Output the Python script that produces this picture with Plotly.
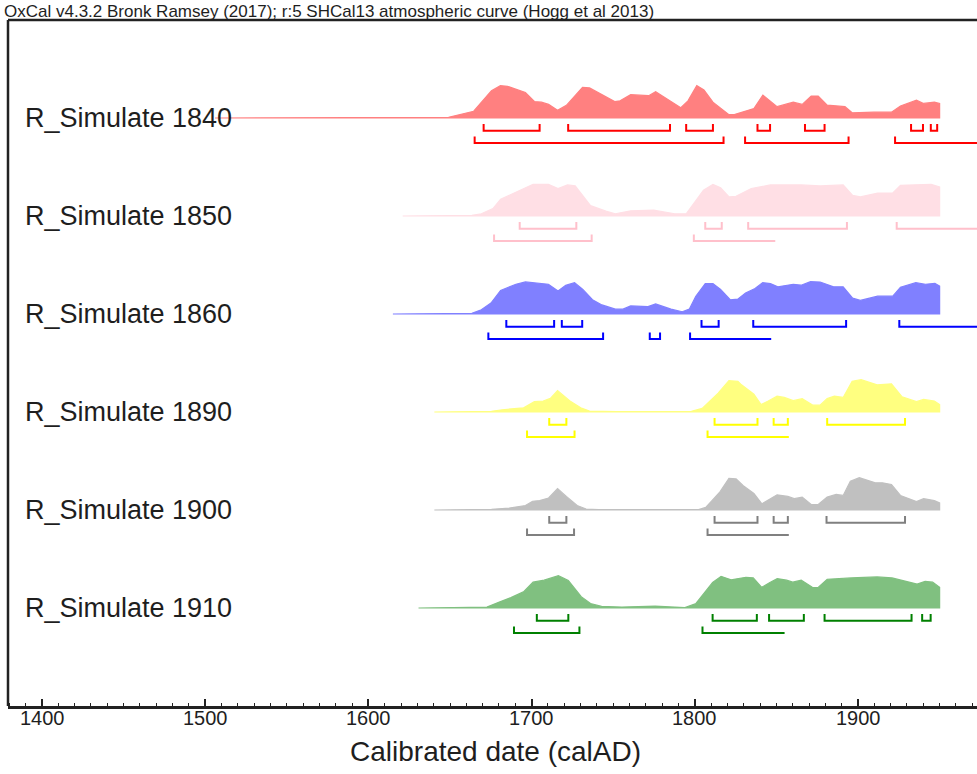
import plotly.graph_objects as go

# ---------------- data ----------------
row_labels = ["R_Simulate 1840", "R_Simulate 1850", "R_Simulate 1860",
              "R_Simulate 1890", "R_Simulate 1900", "R_Simulate 1910"]

years_1840 = [1506, 1631.6, 1649.1, 1664.5, 1675.4, 1680.9, 1685.2, 1696.2, 1701.7, 1706.0, 1710.4,
              1715.9, 1721.3, 1731.2, 1735.5, 1750.9, 1754.2, 1760.7, 1771.7, 1776.0, 1789.2,
              1791.4, 1795.8, 1801.2, 1805.6, 1811.1, 1820.9, 1824.2, 1836.2, 1841.7, 1850.4,
              1860.3, 1865.8, 1871.3, 1875.6, 1881.1, 1892.0, 1896.4, 1909.6, 1920.5, 1926.0,
              1935.8, 1940.2, 1946.8, 1950]
dens_1840 = [0, 0, 0.02, 0.21, 0.84, 1.0, 0.98, 0.79, 0.51, 0.49, 0.42,
             0.24, 0.39, 0.95, 0.93, 0.51, 0.53, 0.72, 0.69, 0.81, 0.39,
             0.32, 0.53, 1.0, 0.87, 0.49, 0.105, 0.105, 0.29, 0.71, 0.35,
             0.49, 0.42, 0.68, 0.68, 0.40, 0.35, 0.16, 0.18, 0.18, 0.37,
             0.55, 0.45, 0.49, 0.45]

years_1850 = [1621, 1663.4, 1669.2, 1676.3, 1681.0, 1690.4, 1700.9, 1710.3, 1716.2, 1722.0, 1726.7,
              1736.1, 1745.5, 1751.3, 1760.7, 1774.8, 1787.7, 1794.7, 1805.3, 1811.1, 1815.8,
              1821.0, 1825.2, 1834.6, 1846.3, 1865.1, 1876.8, 1890.9, 1896.7, 1901.4, 1912.0,
              1921.3, 1926.0, 1944.8, 1950]
dens_1850 = [0, 0.02, 0.07, 0.23, 0.52, 0.74, 0.98, 0.98, 0.85, 0.96, 0.93,
             0.32, 0.15, 0.07, 0.16, 0.18, 0.07, 0.07, 0.80, 0.98, 0.87,
             0.59, 0.61, 0.85, 0.96, 0.96, 0.93, 0.96, 0.64, 0.59, 0.71,
             0.71, 0.95, 0.98, 0.90]

years_1860 = [1615, 1663.4, 1669.2, 1675.1, 1681.0, 1690.4, 1696.2, 1710.3, 1716.2, 1720.9, 1726.3,
              1731.4, 1737.3, 1743.1, 1751.3, 1756.0, 1760.7, 1771.3, 1776.0, 1785.4, 1792.3,
              1796.6, 1800.6, 1806.4, 1811.1, 1815.8, 1821.7, 1826.3, 1831.1, 1836.9, 1841.6,
              1846.3, 1850.9, 1860.3, 1865.1, 1870.9, 1876.8, 1885.0, 1890.9, 1896.7, 1901.4,
              1912.0, 1921.3, 1926.0, 1935.4, 1941.3, 1947.1, 1950]
dens_1860 = [0, 0.02, 0.13, 0.34, 0.73, 0.92, 0.99, 0.92, 0.71, 0.89, 0.97,
             0.76, 0.44, 0.28, 0.15, 0.15, 0.25, 0.23, 0.31, 0.15, 0.07,
             0.15, 0.55, 0.94, 0.94, 0.76, 0.44, 0.46, 0.65, 0.79, 0.97,
             0.94, 0.84, 0.92, 0.89, 1.0, 0.99, 0.84, 0.84, 0.49, 0.42,
             0.55, 0.55, 0.83, 0.97, 0.92, 0.95, 0.86]

years_1890 = [1640.4, 1675.4, 1682.0, 1695.1, 1701.7, 1707.1, 1711.5, 1715.9, 1723.5, 1730.1, 1735.5,
              1752.0, 1797.9, 1804.5, 1814.3, 1820.9, 1826.4, 1828.6, 1836.2, 1840.6, 1845.0,
              1850.4, 1854.8, 1860.3, 1865.8, 1872.4, 1876.7, 1881.1, 1885.5, 1890.9, 1896.4,
              1901.9, 1911.7, 1920.5, 1927.0, 1935.8, 1940.2, 1946.8, 1950]
dens_1890 = [0, 0.02, 0.07, 0.13, 0.32, 0.34, 0.42, 0.66, 0.34, 0.13, 0.03,
             0.01, 0.02, 0.11, 0.58, 0.97, 0.95, 0.84, 0.55, 0.23, 0.34,
             0.49, 0.45, 0.35, 0.41, 0.21, 0.21, 0.42, 0.49, 0.45, 0.95,
             1.0, 0.84, 0.87, 0.47, 0.32, 0.39, 0.34, 0.23]

years_1900 = [1640.4, 1675.4, 1686.3, 1696.2, 1700.6, 1704.9, 1710.4, 1715.9, 1721.3, 1727.9, 1733.4,
              1741.1, 1802.3, 1806.7, 1815.4, 1820.9, 1825.3, 1829.7, 1836.2, 1841.1, 1850.4,
              1857.0, 1860.9, 1865.8, 1871.3, 1875.6, 1881.1, 1886.6, 1890.9, 1895.3, 1900.8,
              1910.6, 1915.0, 1920.5, 1926.0, 1935.8, 1940.2, 1946.8, 1950]
dens_1900 = [0, 0.02, 0.06, 0.14, 0.27, 0.29, 0.37, 0.66, 0.42, 0.14, 0.03,
             0.01, 0.01, 0.08, 0.56, 0.98, 0.96, 0.75, 0.51, 0.19, 0.47,
             0.42, 0.35, 0.40, 0.17, 0.17, 0.40, 0.48, 0.45, 0.89, 1.0,
             0.84, 0.84, 0.79, 0.45, 0.26, 0.35, 0.29, 0.22]

years_1910 = [1630.7, 1672.6, 1680.6, 1687.3, 1695.3, 1700.9, 1707.7, 1716.4, 1722.5, 1730.4, 1736.1,
              1742.9, 1755.3, 1775.7, 1793.9, 1800.7, 1810.9, 1816.1, 1822.2, 1831.3, 1835.8,
              1841.0, 1846.0, 1850.5, 1856.2, 1860.0, 1865.2, 1872.0, 1875.4, 1881.1, 1895.8,
              1911.7, 1920.8, 1929.9, 1936.2, 1941.1, 1945.7, 1950]
dens_1910 = [0, 0.03, 0.19, 0.32, 0.51, 0.80, 0.86, 1.0, 0.85, 0.35, 0.14,
             0.05, 0.03, 0.06, 0.01, 0.14, 0.79, 0.98, 0.87, 0.95, 0.93,
             0.64, 0.79, 0.91, 0.86, 0.80, 0.86, 0.64, 0.63, 0.89, 0.93,
             0.96, 0.93, 0.82, 0.74, 0.82, 0.80, 0.64]

# highest posterior density ranges (68.2% upper row, 95.4% lower row)
hpd68_1840 = [[1670.6, 1704.9], [1722.4, 1784.8], [1794.7, 1811.1], [1838.4, 1846.1],
              [1867.5, 1879.5], [1932.5, 1939.8], [1944.6, 1948.5]]
hpd68_open_1840 = []
hpd95_1840 = [[1665.1, 1817.6], [1830.8, 1894.2]]
hpd95_open_1840 = [[1922.7, 1995]]

hpd68_1850 = [[1692.7, 1727.4], [1806.4, 1816.5], [1832.7, 1893.2]]
hpd68_open_1850 = [[1923.7, 1995]]
hpd95_1850 = [[1677.0, 1736.8]]
hpd95_open_1850 = [[1799.4, 1849.3]]

hpd68_1860 = [[1684.5, 1713.8], [1718.5, 1731.0], [1804.1, 1814.6], [1835.8, 1892.7]]
hpd68_open_1860 = [[1925.3, 1995]]
hpd95_1860 = [[1673.5, 1743.8], [1772.4, 1778.7]]
hpd95_open_1860 = [[1797.1, 1846.8]]

hpd68_1890 = [[1710.8, 1721.3], [1812.1, 1838.4], [1848.3, 1857.0], [1881.1, 1928.8]]
hpd68_open_1890 = []
hpd95_1890 = [[1697.2, 1726.3]]
hpd95_open_1890 = [[1807.8, 1857.6]]

hpd68_1900 = [[1710.8, 1721.3], [1812.1, 1838.4], [1848.3, 1857.0], [1880.7, 1928.8]]
hpd68_open_1900 = []
hpd95_1900 = [[1697.2, 1726.0]]
hpd95_open_1900 = [[1807.8, 1857.6]]

hpd68_1910 = [[1703.2, 1722.5], [1810.9, 1838.0], [1845.5, 1866.8], [1879.5, 1932.8], [1939.3, 1944.5]]
hpd68_open_1910 = []
hpd95_1910 = [[1689.2, 1729.3]]
hpd95_open_1910 = [[1804.7, 1855.0]]

tick_values = [1400, 1500, 1600, 1700, 1800, 1900]
tick_labels = ["1400", "1500", "1600", "1700", "1800", "1900"]

# ---------------- styling ----------------
line_colors = ["#ff0000", "#ffc0cb", "#0000ff", "#ffff00", "#808080", "#008000"]
fill_colors = ["#ff8080", "#ffdfe5", "#8080ff", "#ffff80", "#c0c0c0", "#80c080"]

rows = [
    (years_1840, dens_1840, hpd68_1840, hpd68_open_1840, hpd95_1840, hpd95_open_1840),
    (years_1850, dens_1850, hpd68_1850, hpd68_open_1850, hpd95_1850, hpd95_open_1850),
    (years_1860, dens_1860, hpd68_1860, hpd68_open_1860, hpd95_1860, hpd95_open_1860),
    (years_1890, dens_1890, hpd68_1890, hpd68_open_1890, hpd95_1890, hpd95_open_1890),
    (years_1900, dens_1900, hpd68_1900, hpd68_open_1900, hpd95_1900, hpd95_open_1900),
    (years_1910, dens_1910, hpd68_1910, hpd68_open_1910, hpd95_1910, hpd95_open_1910),
]

H = 0.33            # peak height in row units
B1_TOP, B1_BOT = 0.062, 0.130
B2_TOP, B2_BOT = 0.190, 0.256
FONT = "Liberation Sans, Arial, sans-serif"
TXT = "#1e1e1e"

fig = go.Figure()

def bracket_xy(closed, opened, base, top, bot):
    xs, ys = [], []
    for a, b in closed:
        xs += [a, a, b, b, None]
        ys += [base - top, base - bot, base - bot, base - top, None]
    for a, b in opened:
        xs += [a, a, b, None]
        ys += [base - top, base - bot, base - bot, None]
    return xs, ys

for i, (yrs, dens, h68, h68o, h95, h95o) in enumerate(rows):
    base = -i
    px = list(yrs) + [yrs[-1], yrs[0]]
    py = [base + H * d for d in dens] + [base, base]
    fig.add_trace(go.Scatter(x=px, y=py, mode="lines", fill="toself",
                             fillcolor=fill_colors[i],
                             line=dict(color=fill_colors[i], width=1.2),
                             hoverinfo="skip", showlegend=False))
    bx, by = bracket_xy(h68, h68o, base, B1_TOP, B1_BOT)
    fig.add_trace(go.Scatter(x=bx, y=by, mode="lines",
                             line=dict(color=line_colors[i], width=2),
                             hoverinfo="skip", showlegend=False))
    bx, by = bracket_xy(h95, h95o, base, B2_TOP, B2_BOT)
    fig.add_trace(go.Scatter(x=bx, y=by, mode="lines",
                             line=dict(color=line_colors[i], width=2),
                             hoverinfo="skip", showlegend=False))
    fig.add_annotation(x=1388.4, y=base, xref="x", yref="y", text=row_labels[i],
                       showarrow=False, xanchor="left", yanchor="middle",
                       font=dict(family=FONT, size=27, color=TXT))

# tick labels
for v, t in zip(tick_values, tick_labels):
    fig.add_annotation(x=v, y=-0.018, xref="x", yref="paper", text=t,
                       showarrow=False, xanchor="center", yanchor="middle",
                       font=dict(family=FONT, size=20, color=TXT))

fig.add_annotation(x=-0.0062, y=1.0131, xref="paper", yref="paper",
                   text="OxCal v4.3.2 Bronk Ramsey (2017); r:5 SHCal13 atmospheric curve (Hogg et al 2013)",
                   showarrow=False, xanchor="left", yanchor="middle",
                   font=dict(family=FONT, size=17, color=TXT))
fig.add_annotation(x=0.5026, y=-0.067, xref="paper", yref="paper",
                   text="Calibrated date (calAD)", showarrow=False,
                   xanchor="center", yanchor="middle",
                   font=dict(family=FONT, size=28, color=TXT))

# frame: left and top borders
fig.add_shape(type="line", xref="paper", yref="paper", x0=0, x1=0, y0=0, y1=1,
              line=dict(color="#222222", width=2.5))
fig.add_shape(type="line", xref="paper", yref="paper", x0=0, x1=1.01, y0=1, y1=1,
              line=dict(color="#222222", width=2.5))

fig.update_layout(
    width=977, height=774,
    margin=dict(l=8, r=0, t=20, b=68),
    paper_bgcolor="white", plot_bgcolor="white",
    hovermode=False,
    xaxis=dict(range=[1379.17, 1972.9], tickvals=tick_values, showticklabels=False,
               ticks="inside", ticklen=7, tickwidth=1.5, tickcolor="#222222",
               minor=dict(ticks="inside", ticklen=3, dtick=10, tick0=1400, tickcolor="#222222", tickwidth=1),
               showline=True, linecolor="#222222", linewidth=2.5,
               showgrid=False, zeroline=False),
    yaxis=dict(range=[-6, 1], visible=False, showgrid=False, zeroline=False),
)

fig.write_html("out.html", config={"displayModeBar": False},
               post_script="document.body.style.margin='0';document.body.style.overflow='hidden';")
